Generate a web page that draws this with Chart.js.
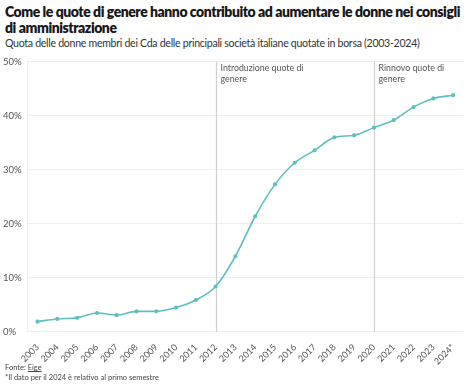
<!DOCTYPE html>
<html lang="it">
<head>
    <meta charset="UTF-8">
    <title>Quote di genere nei Cda</title>
    <script src="https://cdn.jsdelivr.net/npm/chart.js"></script>
    <style>
        body { margin: 0; background: #fff; font-family: Lato, "Open Sans", sans-serif; color: #222; }
        .wrap { position: relative; width: 474px; height: 386px; }
        h1 { position: absolute; left: 5px; top: 4px; margin: 0; font-size: 14px; line-height: 16px; font-weight: 800; letter-spacing: -0.45px; color: #181818; width: 469px; }
        .sub { position: absolute; left: 5px; top: 37px; margin: 0; font-size: 10.6px; letter-spacing: -0.3px; color: #333; white-space: nowrap; }
        .chart { position: absolute; left: 0; top: 53px; width: 474px; height: 316px; }
        .foot { position: absolute; left: 5px; top: 363px; font-size: 7.5px; line-height: 10px; color: #444; }
        .foot u { text-decoration: underline; }
    </style>
</head>
<body>
<div class="wrap">
    <h1>Come le quote di genere hanno contribuito ad aumentare le donne nei consigli<br>di amministrazione</h1>
    <p class="sub">Quota delle donne membri dei Cda delle principali società italiane quotate in borsa (2003-2024)</p>
    <div class="chart"><canvas id="chart"></canvas></div>
    <div class="foot">Fonte: <u>Eige</u><br>*Il dato per il 2024 è relativo al primo semestre</div>
</div>
<script>
    // data
    const years = ['2003', '2004', '2005', '2006', '2007', '2008', '2009', '2010', '2011', '2012', '2013',
        '2014', '2015', '2016', '2017', '2018', '2019', '2020', '2021', '2022', '2023', '2024*'];
    const womenShare = [1.9, 2.4, 2.6, 3.5, 3.1, 3.8, 3.8, 4.5, 5.9, 8.4, 14.0,
        21.4, 27.3, 31.3, 33.6, 36.0, 36.4, 37.8, 39.2, 41.6, 43.2, 43.8];
    const yTicks = [0, 10, 20, 30, 40, 50];
    const markers = [
        { year: '2012', lines: ['Introduzione quote di', 'genere'] },
        { year: '2020', lines: ['Rinnovo quote di', 'genere'] }
    ];

    const lineColor = '#5fbfc0';

    // vertical reference lines + notes
    const markerPlugin = {
        id: 'markers',
        beforeDatasetsDraw(chart) {
            const { ctx, chartArea, scales } = chart;
            ctx.save();
            markers.forEach(m => {
                const x = Math.round(scales.x.getPixelForValue(years.indexOf(m.year))) + 0.5;
                ctx.strokeStyle = '#d0d0d0';
                ctx.lineWidth = 1.2;
                ctx.beginPath();
                ctx.moveTo(x, chartArea.top);
                ctx.lineTo(x, chartArea.bottom);
                ctx.stroke();
                ctx.fillStyle = '#555';
                ctx.font = '8.8px Lato, "Open Sans", sans-serif';
                ctx.textBaseline = 'top';
                m.lines.forEach((t, i) => ctx.fillText(t, x + 4, chartArea.top + 2 + i * 11));
            });
            ctx.restore();
        }
    };

    new Chart(document.getElementById('chart'), {
        type: 'line',
        data: {
            labels: years,
            datasets: [{
                data: womenShare,
                borderColor: lineColor,
                backgroundColor: lineColor,
                borderWidth: 1.6,
                pointRadius: 1.3,
                pointHoverRadius: 3,
                cubicInterpolationMode: 'monotone'
            }]
        },
        options: {
            responsive: true,
            maintainAspectRatio: false,
            animation: false,
            layout: { padding: { top: 6, right: 11, left: 3 } },
            plugins: { legend: { display: false }, tooltip: { enabled: false } },
            scales: {
                x: {
                    offset: true,
                    grid: { display: false },
                    border: { display: false },
                    ticks: {
                        maxRotation: 45, minRotation: 45, autoSkip: false,
                        color: '#555', font: { size: 9, family: 'Lato' }, padding: 2
                    }
                },
                y: {
                    min: 0, max: 50,
                    afterBuildTicks: axis => { axis.ticks = yTicks.map(v => ({ value: v })); },
                    grid: { color: '#eeeeee', drawTicks: false },
                    border: { display: true, color: '#eeeeee' },
                    ticks: {
                        callback: v => v + '%',
                        color: '#555', font: { size: 9.5, family: 'Lato' },
                        crossAlign: 'far', padding: 3
                    }
                }
            }
        },
        plugins: [markerPlugin]
    });
</script>
</body>
</html>
